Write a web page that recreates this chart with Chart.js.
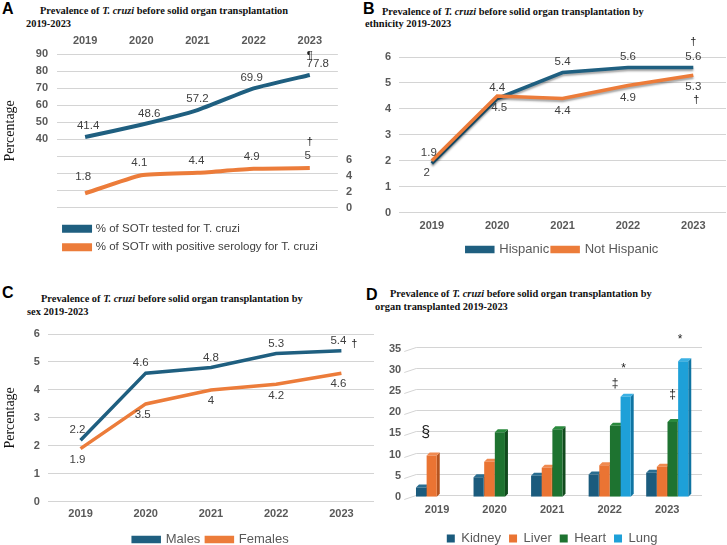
<!DOCTYPE html>
<html>
<head>
<meta charset="utf-8">
<script src="https://cdn.jsdelivr.net/npm/chart.js@4.4.1/dist/chart.umd.min.js"></script>
<style>
  body { margin: 0; background: #fff; }
  #page { position: relative; width: 727px; height: 545px; overflow: hidden; background: #fff; }
  canvas { position: absolute; }
  .letter { position: absolute; font: bold 16px Arial, "Liberation Sans", sans-serif; color: #000; }
  .ttl { position: absolute; font: bold 10.4px "Liberation Serif", "Times New Roman", serif; color: #111; white-space: nowrap; }
</style>
</head>
<body>
<div id="page">
  <div class="letter" style="left:2px;top:0px">A</div>
  <div class="ttl" style="left:40px;top:5px">Prevalence of <i>T. cruzi</i> before solid organ transplantation</div>
  <div class="ttl" style="left:26px;top:18px">2019-2023</div>

  <div class="letter" style="left:363px;top:0px">B</div>
  <div class="ttl" style="left:382px;top:6px">Prevalence of <i>T. cruzi</i> before solid organ transplantation by</div>
  <div class="ttl" style="left:365px;top:18px">ethnicity 2019-2023</div>

  <div class="letter" style="left:2px;top:284px">C</div>
  <div class="ttl" style="left:41px;top:293px">Prevalence of <i>T. cruzi</i> before solid organ transplantation by</div>
  <div class="ttl" style="left:27px;top:306px">sex 2019-2023</div>

  <div class="letter" style="left:366px;top:286px">D</div>
  <div class="ttl" style="left:390px;top:288px">Prevalence of <i>T. cruzi</i> before solid organ transplantation by</div>
  <div class="ttl" style="left:375px;top:301px">organ transplanted 2019-2023</div>

  <canvas id="chartA" width="362" height="247" style="left:0;top:24px"></canvas>
  <canvas id="chartB" width="367" height="240" style="left:360px;top:30px"></canvas>
  <canvas id="chartC" width="376" height="246" style="left:0;top:310px"></canvas>
  <canvas id="chartD" width="367" height="245" style="left:360px;top:310px"></canvas>
</div>
<script>
// 年（共通のカテゴリ）
const years = ['2019', '2020', '2021', '2022', '2023'];

// A: 検査率と陽性率
const testedPct = [41.4, 48.6, 57.2, 69.9, 77.8];
const positivePct = [1.8, 4.1, 4.4, 4.9, 5];

// B: 民族別
const hispanic = [1.9, 4.4, 5.4, 5.6, 5.6];
const notHispanic = [2, 4.5, 4.4, 4.9, 5.3];

// C: 性別
const males = [2.2, 4.6, 4.8, 5.3, 5.4];
const females = [1.9, 3.5, 4, 4.2, 4.6];

// D: 臓器別
const kidney = [2.2, 4.6, 5.0, 5.3, 5.7];
const liver = [9.8, 8.3, 6.9, 7.5, 7.1];
const heart = [0, 15.3, 16.0, 16.8, 17.7];
const lung = [0, 0, 0, 23.7, 32.1];

const BLUE = '#1f5f80';
const ORANGE = '#ec7c3a';
const GRID = '#d4d4d4';
const TICK = '#595959';

Chart.defaults.font.family = 'Arial, "Liberation Sans", sans-serif';
Chart.defaults.color = TICK;

// 値ラベルと記号（†など）を描くプラグイン
const valueLabels = {
    id: 'valueLabels',
    afterDatasetsDraw(chart, args, opts) {
        const ctx = chart.ctx;
        ctx.save();
        ctx.textAlign = 'center';
        ctx.textBaseline = 'middle';
        ctx.font = '11.5px Arial, "Liberation Sans", sans-serif';
        ctx.fillStyle = '#404040';
        (opts.dy || []).forEach((dy, i) => {
            const ds = chart.data.datasets[i];
            chart.getDatasetMeta(i).data.forEach((pt, j) => {
                const dx = (opts.dx && opts.dx[i]) ? opts.dx[i][j] : 0;
                const extra = (opts.dyFix && opts.dyFix[i]) ? opts.dyFix[i][j] : 0;
                ctx.fillText(String(ds.data[j]), pt.x + dx, pt.y + dy + extra);
            });
        });
        // 記号
        (opts.marks || []).forEach(m => {
            const pt = chart.getDatasetMeta(m.ds).data[m.idx];
            ctx.font = (m.size || 11) + 'px Arial, "Liberation Sans", sans-serif';
            ctx.fillStyle = '#222';
            ctx.fillText(m.text, pt.x + (m.dx || 0), pt.y + m.dy);
        });
        ctx.restore();
    }
};

// 線の影（Bのみ）
const lineShadow = {
    id: 'lineShadow',
    beforeDatasetDraw(chart, args, opts) {
        if (!opts.enabled) return;
        const ctx = chart.ctx;
        ctx.save();
        ctx.shadowColor = 'rgba(0,0,0,0.35)';
        ctx.shadowOffsetY = 2;
        ctx.shadowBlur = 2;
    },
    afterDatasetDraw(chart, args, opts) {
        if (!opts.enabled) return;
        chart.ctx.restore();
    }
};

const tickFont = { size: 11, weight: 'bold' };

function lineDs(label, data, color, width, extra) {
    return Object.assign({
        label: label,
        data: data,
        borderColor: color,
        backgroundColor: color,
        borderWidth: width,
        pointRadius: 0,
        tension: 0
    }, extra || {});
}

// ---------- A ----------
new Chart(document.getElementById('chartA'), {
    type: 'line',
    data: {
        labels: years,
        datasets: [
            lineDs('% of SOTr tested for T. cruzi', testedPct, BLUE, 4, { yAxisID: 'y', tension: 0.15 }),
            lineDs('% of SOTr with positive serology for T. cruzi', positivePct, ORANGE, 4, { yAxisID: 'y1', tension: 0.15 })
        ]
    },
    options: {
        responsive: false,
        animation: false,
        layout: { padding: { left: 2, right: 2, top: 3, bottom: 8 } },
        scales: {
            x: {
                position: 'top',
                offset: true,
                grid: { display: false, drawTicks: false },
                border: { display: false },
                ticks: { font: tickFont, padding: 7 }
            },
            y: {
                min: 0, max: 90,
                grid: { color: GRID, drawTicks: false },
                border: { display: false },
                ticks: { stepSize: 10, autoSkip: false, font: tickFont, padding: 9, callback: v => v >= 40 ? v : '' },
                title: { display: true, text: 'Percentage', color: '#111',
                    font: { family: '"Liberation Serif", "Times New Roman", serif', size: 14 },
                    padding: { top: 0, bottom: 8 } }
            },
            y1: {
                position: 'right',
                min: 0, max: 19.4,
                grid: { display: false, drawTicks: false },
                border: { display: false },
                ticks: { stepSize: 2, autoSkip: false, font: tickFont, padding: 8, callback: v => v <= 6 ? v : '' }
            }
        },
        plugins: {
            legend: {
                position: 'bottom',
                align: 'start',
                fullSize: false,
                title: { display: true, text: '', font: { size: 7 }, padding: 0 },
                labels: { boxWidth: 26, boxHeight: 4, padding: 7, color: '#404040', font: { size: 11.5 } }
            },
            tooltip: { enabled: false },
            valueLabels: {
                dy: [-11, -12],
                dx: [[3, 8, 0, -2, 8], [-2, -2, -1, -2, -2]],
                dyFix: [[0, 0, 0, 0, 0], [-5, 0, 0, 0, 0]],
                marks: [
                    { ds: 0, idx: 4, text: '¶', dy: -19, dx: 0 },
                    { ds: 1, idx: 4, text: '†', dy: -26, dx: 0 }
                ]
            }
        }
    },
    plugins: [valueLabels]
});

// ---------- B ----------
new Chart(document.getElementById('chartB'), {
    type: 'line',
    data: {
        labels: years,
        datasets: [
            lineDs('Hispanic', hispanic, BLUE, 3.5, { order: 1 }),
            lineDs('Not Hispanic', notHispanic, ORANGE, 3.5, { order: 0 })
        ]
    },
    options: {
        responsive: false,
        animation: false,
        layout: { padding: { left: 17, right: 1, top: 27, bottom: 4 } },
        scales: {
            x: {
                offset: true,
                grid: { display: false, drawTicks: false },
                border: { display: false },
                ticks: { font: tickFont, padding: 7 }
            },
            y: {
                min: 0, max: 6,
                grid: { color: GRID, drawTicks: false },
                border: { display: false },
                ticks: { stepSize: 1, font: tickFont, padding: 8 }
            }
        },
        plugins: {
            legend: {
                position: 'bottom',
                fullSize: false,
                labels: { boxWidth: 26, boxHeight: 4, padding: 3, color: TICK, font: { size: 13 },
                    sort: (a, b) => a.datasetIndex - b.datasetIndex }
            },
            tooltip: { enabled: false },
            lineShadow: { enabled: true },
            valueLabels: {
                dy: [-11, 12],
                dx: [[-3, 0, 0, 0, 0], [-5, 2, 0, 0, 0]],
                marks: [
                    { ds: 0, idx: 4, text: '†', dy: -25, dx: 0 },
                    { ds: 1, idx: 4, text: '†', dy: 25, dx: 3 }
                ]
            }
        }
    },
    plugins: [lineShadow, valueLabels]
});

// ---------- C ----------
new Chart(document.getElementById('chartC'), {
    type: 'line',
    data: {
        labels: years,
        datasets: [
            lineDs('Males', males, BLUE, 3.5),
            lineDs('Females', females, ORANGE, 3.5)
        ]
    },
    options: {
        responsive: false,
        animation: false,
        layout: { padding: { left: 2, right: 2, top: 24, bottom: 0 } },
        scales: {
            x: {
                offset: true,
                grid: { display: false, drawTicks: false },
                border: { display: false },
                ticks: { font: tickFont, padding: 6 }
            },
            y: {
                min: 0, max: 6,
                grid: { color: GRID, drawTicks: false },
                border: { display: false },
                ticks: { stepSize: 1, font: tickFont, padding: 8 },
                title: { display: true, text: 'Percentage', color: '#111',
                    font: { family: '"Liberation Serif", "Times New Roman", serif', size: 14 },
                    padding: { top: 0, bottom: 7 } }
            }
        },
        plugins: {
            legend: {
                position: 'bottom',
                fullSize: false,
                labels: { boxWidth: 26, boxHeight: 4, padding: 6, color: TICK, font: { size: 13 } }
            },
            tooltip: { enabled: false },
            valueLabels: {
                dy: [-10, 11],
                dx: [[-3, -5, 0, 0, -3], [-3, -3, 0, 0, -3]],
                marks: [
                    { ds: 0, idx: 4, text: '†', dy: -7, dx: 13 }
                ]
            }
        }
    },
    plugins: [valueLabels]
});

// ---------- D ----------
// 3D風の棒（側面と上面）と斜めのグリッド線
const bar3d = {
    id: 'bar3d',
    beforeDatasetsDraw(chart, args, opts) {
        const ctx = chart.ctx;
        const d = opts.depth;
        const area = chart.chartArea;
        const yScale = chart.scales.y;
        ctx.save();
        ctx.strokeStyle = GRID;
        ctx.lineWidth = 1;
        yScale.ticks.forEach(t => {
            const y = Math.round(yScale.getPixelForValue(t.value)) + 0.5;
            ctx.beginPath();
            ctx.moveTo(area.left - 4, y + 2);
            ctx.lineTo(area.left + 8, y - 2);
            ctx.lineTo(area.right + 6, y - 2);
            ctx.stroke();
        });
        chart.data.datasets.forEach((ds, i) => {
            chart.getDatasetMeta(i).data.forEach((bar, j) => {
                if (!ds.data[j]) return;
                const p = bar.getProps(['x', 'y', 'base', 'width'], true);
                const l = p.x - p.width / 2, r = p.x + p.width / 2;
                ctx.fillStyle = opts.side[i];
                ctx.beginPath();
                ctx.moveTo(r, p.y); ctx.lineTo(r + d, p.y - d);
                ctx.lineTo(r + d, p.base - d); ctx.lineTo(r, p.base);
                ctx.closePath(); ctx.fill();
                ctx.fillStyle = opts.top[i];
                ctx.beginPath();
                ctx.moveTo(l, p.y); ctx.lineTo(l + d, p.y - d);
                ctx.lineTo(r + d, p.y - d); ctx.lineTo(r, p.y);
                ctx.closePath(); ctx.fill();
            });
        });
        ctx.restore();
    }
};

new Chart(document.getElementById('chartD'), {
    type: 'bar',
    data: {
        labels: years,
        datasets: [
            { label: 'Kidney', data: kidney, backgroundColor: '#1b5b7d' },
            { label: 'Liver', data: liver, backgroundColor: '#ea7433' },
            { label: 'Heart', data: heart, backgroundColor: '#1e7330' },
            { label: 'Lung', data: lung, backgroundColor: '#1ea0d8' }
        ]
    },
    options: {
        responsive: false,
        animation: false,
        layout: { padding: { left: 22, right: 31, top: 39, bottom: 0 } },
        datasets: { bar: { categoryPercentage: 0.74, barPercentage: 0.95 } },
        scales: {
            x: {
                grid: { display: false, drawTicks: false },
                border: { display: false },
                ticks: { font: tickFont, padding: 7 }
            },
            y: {
                min: 0, max: 35,
                grid: { display: false, drawTicks: false },
                border: { display: false },
                ticks: { stepSize: 5, font: tickFont, padding: 7 }
            }
        },
        plugins: {
            legend: {
                position: 'bottom',
                fullSize: false,
                labels: { boxWidth: 8, boxHeight: 8, padding: 8, color: TICK, font: { size: 13 } }
            },
            tooltip: { enabled: false },
            bar3d: {
                depth: 3,
                side: ['#103e57', '#b5541f', '#114a1d', '#0f74a2'],
                top: ['#2a6e91', '#f08a50', '#2a8a3d', '#3bb0e3']
            },
            valueLabels: {
                dy: [],
                marks: [
                    { ds: 1, idx: 0, text: '§', dy: -23, dx: -6, size: 16 },
                    { ds: 2, idx: 3, text: '‡', dy: -42, dx: 0, size: 12 },
                    { ds: 2, idx: 4, text: '‡', dy: -27, dx: 0, size: 12 },
                    { ds: 3, idx: 3, text: '*', dy: -28, dx: -2, size: 12 },
                    { ds: 3, idx: 4, text: '*', dy: -22, dx: -3, size: 12 }
                ]
            }
        }
    },
    plugins: [bar3d, valueLabels]
});
</script>
</body>
</html>
